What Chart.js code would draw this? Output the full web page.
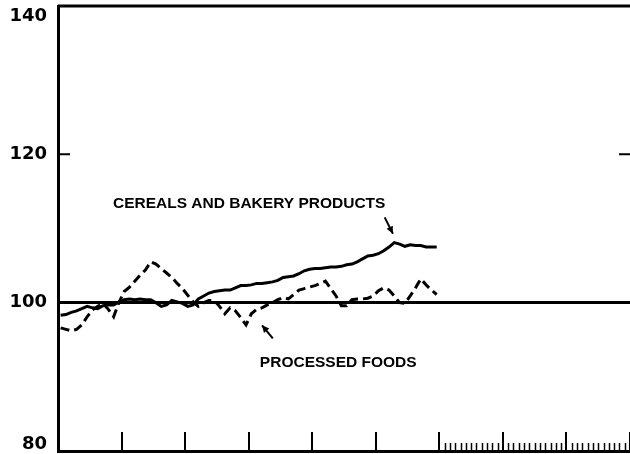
<!DOCTYPE html>
<html>
<head>
<meta charset="utf-8">
<script src="https://cdn.jsdelivr.net/npm/chart.js@4"></script>
<style>
  body { margin: 0; background: #fff; }
  #wrap { width: 630px; height: 454px; }
</style>
</head>
<body>
<div id="wrap"><canvas id="myChart"></canvas></div>
<script>
// index numbers, monthly, six years (x axis counted in years from the first tick)
const cereals = [
  98.3, 98.4, 98.7, 98.9, 99.2, 99.5, 99.3, 99.2, 99.6, 99.7, 99.7, 100.1,
  100.4, 100.5, 100.4, 100.5, 100.4, 100.4, 100.0, 99.5, 99.7, 100.3, 100.1, 99.9,
  99.5, 99.7, 100.5, 100.9, 101.3, 101.5, 101.6, 101.7, 101.7, 102.0, 102.3, 102.3,
  102.4, 102.6, 102.6, 102.7, 102.8, 103.0, 103.4, 103.5, 103.6, 103.9, 104.3, 104.5,
  104.6, 104.6, 104.7, 104.8, 104.8, 104.9, 105.1, 105.2, 105.5, 105.9, 106.3, 106.4,
  106.6, 107.0, 107.5, 108.1, 107.9, 107.6, 107.8, 107.7, 107.7, 107.5, 107.5, 107.5
];
const processed = [
  96.6, 96.4, 96.2, 96.4, 97.0, 98.1, 99.0, 99.5, 99.9, 99.1, 98.1, 100.0,
  101.5, 102.1, 102.9, 103.7, 104.4, 105.5, 105.2, 104.6, 104.0, 103.4, 102.6, 101.9,
  101.0, 100.1, 99.5, 100.0, 100.3, 100.3, 99.5, 98.5, 99.3, 98.9, 98.0, 97.0,
  98.5, 99.1, 99.3, 99.7, 100.0, 100.4, 100.7, 100.5, 101.1, 101.7, 101.9, 102.1,
  102.3, 102.6, 102.9, 101.9, 100.9, 99.6, 99.6, 100.4, 100.5, 100.5, 100.6, 100.9,
  101.6, 102.0, 101.7, 100.9, 100.0, 99.9, 100.9, 102.0, 103.2, 102.4, 101.7, 101.1
];
const yTicks = [80, 100, 120, 140];
const yearTicks = [1, 2, 3, 4, 5, 6, 7, 8, 9];
const monthTickFrom = 6;   // monthly ticks are shown only after year 6
const labelCereals = 'CEREALS AND BAKERY PRODUCTS';
const labelProcessed = 'PROCESSED FOODS';

const toPoints = arr => arr.map((v, i) => ({x: (i + 0.5) / 12, y: v}));

// ticks inside the frame, labels, notes and arrows
const framePlugin = {
  id: 'frame',
  afterDraw(chart) {
    const {ctx, chartArea: a, scales: {x, y}} = chart;
    ctx.save();
    ctx.strokeStyle = '#000';
    ctx.fillStyle = '#000';
    ctx.lineCap = 'butt';

    // top line
    ctx.lineWidth = 3;
    ctx.beginPath();
    ctx.moveTo(a.left, a.top);
    ctx.lineTo(a.right, a.top);
    ctx.stroke();

    // 120 ticks left and right
    const y120 = y.getPixelForValue(120);
    ctx.lineWidth = 2;
    ctx.beginPath();
    ctx.moveTo(a.left, y120); ctx.lineTo(a.left + 12, y120);
    ctx.moveTo(a.right - 11, y120); ctx.lineTo(a.right, y120);
    ctx.stroke();

    // year ticks
    ctx.lineWidth = 2;
    ctx.beginPath();
    yearTicks.forEach(t => {
      const px = Math.round(x.getPixelForValue(t));
      ctx.moveTo(px, a.bottom); ctx.lineTo(px, a.bottom - 19);
    });
    ctx.stroke();
    // month ticks
    ctx.lineWidth = 1.5;
    ctx.beginPath();
    for (let m = monthTickFrom * 12 + 1; m < x.max * 12; m++) {
      if (m % 12 === 0) continue;
      const px = Math.round(x.getPixelForValue(m / 12)) + 0.5;
      ctx.moveTo(px, a.bottom); ctx.lineTo(px, a.bottom - 8);
    }
    ctx.stroke();

    // y labels
    ctx.font = 'bold 18px "DejaVu Sans"';
    ctx.textAlign = 'right';
    ctx.textBaseline = 'middle';
    yTicks.forEach(v => {
      let py = y.getPixelForValue(v);
      py = Math.min(Math.max(py, a.top + 10), a.bottom - 7);
      ctx.fillText(String(v), a.left - 11, py);
    });

    // notes
    ctx.font = 'bold 15.5px "Liberation Sans"';
    ctx.textAlign = 'left';
    ctx.textBaseline = 'alphabetic';
    ctx.fillText(labelCereals, x.getPixelForValue(0.865), y.getPixelForValue(112.8));
    ctx.fillText(labelProcessed, x.getPixelForValue(3.176), y.getPixelForValue(91.3));

    const arrow = (x0, y0, x1, y1) => {
      const ang = Math.atan2(y1 - y0, x1 - x0);
      ctx.lineWidth = 2;
      ctx.beginPath();
      ctx.moveTo(x0, y0); ctx.lineTo(x1, y1);
      ctx.stroke();
      ctx.beginPath();
      ctx.moveTo(x1, y1);
      ctx.lineTo(x1 - 8 * Math.cos(ang - 0.45), y1 - 8 * Math.sin(ang - 0.45));
      ctx.lineTo(x1 - 8 * Math.cos(ang + 0.45), y1 - 8 * Math.sin(ang + 0.45));
      ctx.closePath();
      ctx.fill();
    };
    arrow(x.getPixelForValue(5.14), y.getPixelForValue(111.5), x.getPixelForValue(5.27), y.getPixelForValue(109.3));
    arrow(x.getPixelForValue(3.38), y.getPixelForValue(95.2), x.getPixelForValue(3.21), y.getPixelForValue(96.95));
    ctx.restore();
  }
};

const ctx = document.getElementById('myChart').getContext('2d');
const myChart = new Chart(ctx, {
  type: 'line',
  data: {
    datasets: [{
      label: 'Cereals and bakery products',
      data: toPoints(cereals),
      borderColor: '#000',
      borderWidth: 3,
      pointRadius: 0,
      tension: 0
    }, {
      label: 'Processed foods',
      data: toPoints(processed),
      borderColor: '#000',
      borderWidth: 3,
      borderDash: [9, 5],
      pointRadius: 0,
      tension: 0
    }]
  },
  options: {
    responsive: true,
    maintainAspectRatio: false,
    animation: false,
    layout: { padding: { top: 6, left: 0, right: 0, bottom: 0 } },
    plugins: { legend: { display: false }, tooltip: { enabled: false } },
    scales: {
      x: {
        type: 'linear',
        min: 0,
        max: 9,
        ticks: { display: false, stepSize: 1 },
        grid: { drawOnChartArea: false, drawTicks: false },
        border: { display: true, width: 3, color: '#000' },
        afterFit: s => { s.height = 3; }
      },
      y: {
        min: 80,
        max: 140,
        ticks: { display: false, stepSize: 20 },
        grid: {
          drawTicks: false,
          lineWidth: 3,
          color: c => (c.tick && c.tick.value === 100) ? '#000' : 'rgba(0,0,0,0)'
        },
        border: { display: true, width: 3, color: '#000' },
        afterFit: s => { s.width = 58; }
      }
    }
  },
  plugins: [framePlugin]
});
</script>
</body>
</html>
